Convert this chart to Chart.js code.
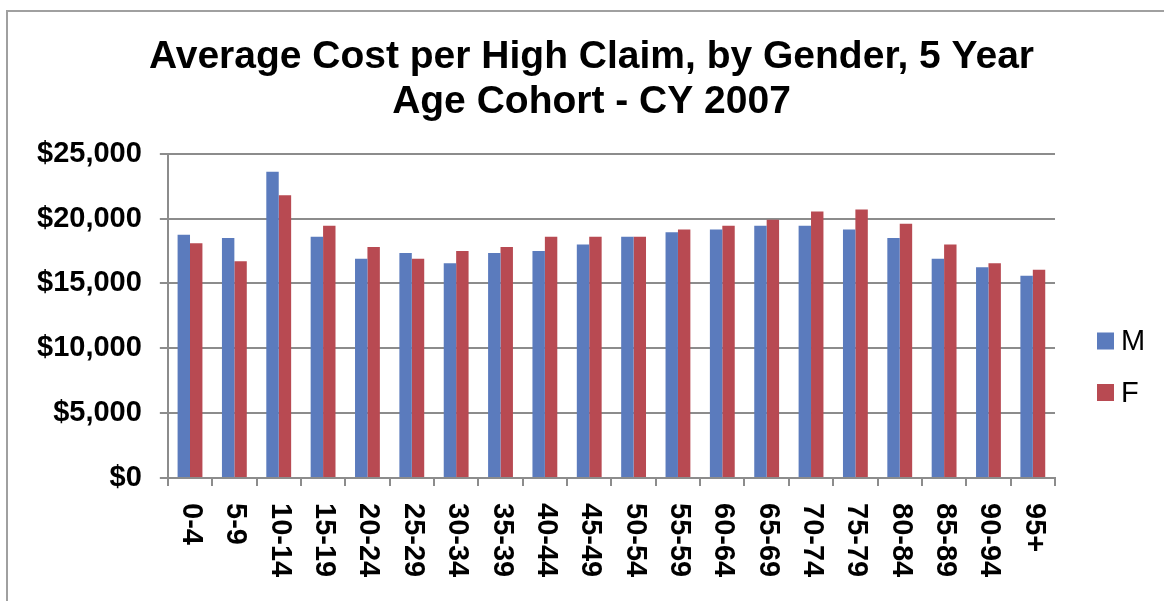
<!DOCTYPE html>
<html>
<head>
<meta charset="utf-8">
<script src="https://cdn.jsdelivr.net/npm/chart.js@4/dist/chart.umd.min.js"></script>
<style>
 body{margin:0;background:#fff;overflow:hidden;}
 #frame{position:absolute;left:6px;top:10px;width:1200px;height:640px;border:2px solid #a0a0a0;box-sizing:border-box;}
 #box{position:absolute;left:0;top:0;width:1164px;height:601px;}
</style>
</head>
<body>
<div id="frame"></div>
<div id="box"><canvas id="chart"></canvas></div>
<script>
// DATA
const ageGroups=["0-4","5-9","10-14","15-19","20-24","25-29","30-34","35-39","40-44","45-49",
 "50-54","55-59","60-64","65-69","70-74","75-79","80-84","85-89","90-94","95+"];
const maleCost=[18750,18500,23600,18600,16900,17350,16550,17350,17500,18000,
 18600,18950,19150,19450,19450,19150,18500,16900,16250,15600];
const femaleCost=[18100,16700,21800,19450,17800,16900,17500,17800,18600,18600,
 18600,19150,19450,19900,20550,20700,19600,18000,16550,16050];
const yTicks=[0,5000,10000,15000,20000,25000];

const font="'Liberation Sans', Arial, sans-serif";

// x labels read top-to-bottom, like the original
const xLabels={
  id:'xLabels',
  afterDraw(chart){
    const ctx=chart.ctx, xs=chart.scales.x;
    ctx.save();
    ctx.fillStyle="#000";
    ctx.font="bold 29px "+font;
    ctx.textAlign="left";
    ctx.textBaseline="middle";
    chart.data.labels.forEach((lab,i)=>{
      ctx.save();
      ctx.translate(xs.getPixelForTick(i)+1,chart.chartArea.bottom+25);
      ctx.rotate(Math.PI/2);
      ctx.fillText(lab,0,0);
      ctx.restore();
    });
    ctx.restore();
  }
};

// legend on the right
const sideLegend={
  id:'sideLegend',
  afterDraw(chart){
    const ctx=chart.ctx;
    ctx.save();
    ctx.font="29px "+font;
    ctx.textBaseline="middle";
    chart.data.datasets.forEach((ds,i)=>{
      const y=341+i*51.5;
      ctx.fillStyle=ds.backgroundColor;
      ctx.fillRect(1097,y-8.5,17,17);
      ctx.fillStyle="#000";
      ctx.fillText(ds.label,1121,y+1);
    });
    ctx.restore();
  }
};

new Chart(document.getElementById("chart"),{
  type:'bar',
  data:{
    labels:ageGroups,
    datasets:[
      {label:"M",data:maleCost,backgroundColor:"#5b7bbd"},
      {label:"F",data:femaleCost,backgroundColor:"#b84a52"}
    ]
  },
  plugins:[xLabels,sideLegend],
  options:{
    responsive:true,
    maintainAspectRatio:false,
    animation:false,
    layout:{padding:{left:19,right:0,top:0,bottom:115}},
    datasets:{bar:{barPercentage:1,categoryPercentage:0.56}},
    plugins:{
      title:{
        display:true,
        text:["Average Cost per High Claim, by Gender, 5 Year","Age Cohort - CY 2007"],
        color:"#000",
        font:{family:font,size:39,weight:'bold',lineHeight:1.15},
        padding:{top:35,bottom:29}
      },
      legend:{display:false},
      tooltip:{enabled:false}
    },
    scales:{
      x:{
        grid:{display:true,drawOnChartArea:false,offset:true,color:"#8c8c8c",lineWidth:2,tickLength:8},
        border:{color:"#8c8c8c",width:2},
        ticks:{display:false}
      },
      y:{
        min:0,max:25000,
        afterBuildTicks:axis=>{axis.ticks=yTicks.map(v=>({value:v}));},
        grid:{color:"#8c8c8c",lineWidth:2,tickLength:8,drawTicks:true},
        border:{color:"#8c8c8c",width:2},
        ticks:{color:"#000",font:{family:font,size:29,weight:'bold'},padding:18,
          callback:v=>"$"+v.toLocaleString("en-US")}
      },
      // empty right-hand room for the legend
      side:{
        type:'linear',axis:'y',position:'right',
        grid:{display:false},border:{display:false},ticks:{display:false},
        afterFit:axis=>{axis.width=109;}
      }
    }
  }
});
</script>
</body>
</html>
